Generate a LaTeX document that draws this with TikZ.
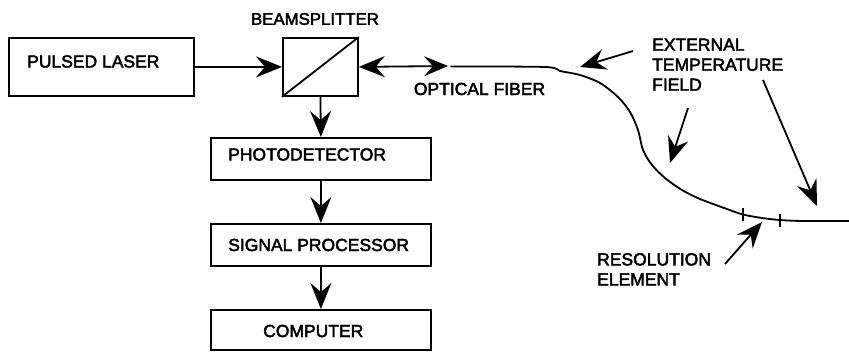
\documentclass[tikz,border=0pt]{standalone}
\usepackage{fontspec}
\setmainfont{Liberation Sans}[FakeBold=2.5]
\usetikzlibrary{arrows.meta,calc}
\begin{document}
\begin{tikzpicture}[x=1pt,y=-1pt,
  box/.style={draw, line width=1.8pt, inner sep=0pt, anchor=north west},
  lbl/.style={font=\fontsize{17.5}{20}\selectfont, inner sep=0pt},
  arr/.style={line width=1.8pt, -{Stealth[length=26pt,width=21pt,inset=9pt]}},
  darr/.style={line width=1.8pt, {Stealth[length=26pt,width=21pt,inset=9pt]}-{Stealth[length=24pt,width=20pt,inset=9pt]}},
  fiber/.style={line width=1.8pt, line join=round, line cap=round},
]
\useasboundingbox (0,0) rectangle (849,351);

% boxes
\node[box, minimum width=185pt, minimum height=58pt] (laser) at (8,37) {};
\node[box, minimum width=75pt, minimum height=58pt] (bs) at (282,37) {};
\node[box, minimum width=220pt, minimum height=42pt] (pd) at (210,137) {};
\node[box, minimum width=220pt, minimum height=42pt] (sp) at (210,223) {};
\node[box, minimum width=220pt, minimum height=40pt] (comp) at (210,309) {};
\draw[line width=1.8pt] (bs.south west) -- (bs.north east);

% texts
\node[lbl, anchor=west] (tlaser) at (27,61.5) {PULSED LASER};
\node[lbl, font=\fontsize{16.8}{18}\selectfont] (tbs) at (315,19) {BEAMSPLITTER};
\node[lbl] (tfib) at (479.5,89) {OPTICAL FIBER};
\node[lbl, anchor=west] (tpd) at (228,154.5) {PHOTODETECTOR};
\node[lbl, anchor=west] (tsp) at (228,245) {SIGNAL PROCESSOR};
\node[lbl, anchor=west] (tcomp) at (263,331) {COMPUTER};
\node[lbl, anchor=north west, align=left] (text) at (652,38.5) {EXTERNAL\\TEMPERATURE\\FIELD};
\node[lbl, anchor=north west, align=left] (tres) at (597,253) {RESOLUTION\\ELEMENT};

% signal path
\draw[arr] (laser.east) -- (bs.west);
\draw[arr] (bs.south) -- (pd.north);
\draw[arr] (pd.south) -- (sp.north);
\draw[arr] (sp.south) -- (comp.north);
\coordinate (fend) at (448,66);
\draw[darr] (bs.east) -- (fend);

% fiber
\coordinate (f0) at (451,66.5);
\coordinate (t1) at (743,214.5);
\coordinate (t2) at (780,220);
\draw[fiber] plot[smooth, tension=0.5] coordinates {(451,66.5) (545,67) (560,71) (580,75) (600,83) (618,97) (630,112) (638,130) (643,150) (652,165) (665,178) (682,190) (700,199) (727,209) (743,214.5) (762,218) (780,220) (803,221) (849,221)};
\draw[line width=1.5pt] ($(t1)+(0,-7)$) -- ($(t1)+(0,6)$);
\draw[line width=1.5pt] ($(t2)+(0,-6)$) -- ($(t2)+(0,7)$);

% pointer arrows
\coordinate (a1s) at (633,51);
\coordinate (a1e) at (580,67);
\coordinate (a2s) at (688,108);
\coordinate (a2e) at (670,163);
\coordinate (a3s) at (763,80);
\coordinate (a3e) at (817,206);
\coordinate (a4s) at (725,264);
\coordinate (a4e) at (762,222);
\draw[arr] (a1s) -- (a1e);
\draw[arr] (a2s) -- (a2e);
\draw[arr] (a3s) -- (a3e);
\draw[arr] (a4s) -- (a4e);
\end{tikzpicture}
\end{document}
